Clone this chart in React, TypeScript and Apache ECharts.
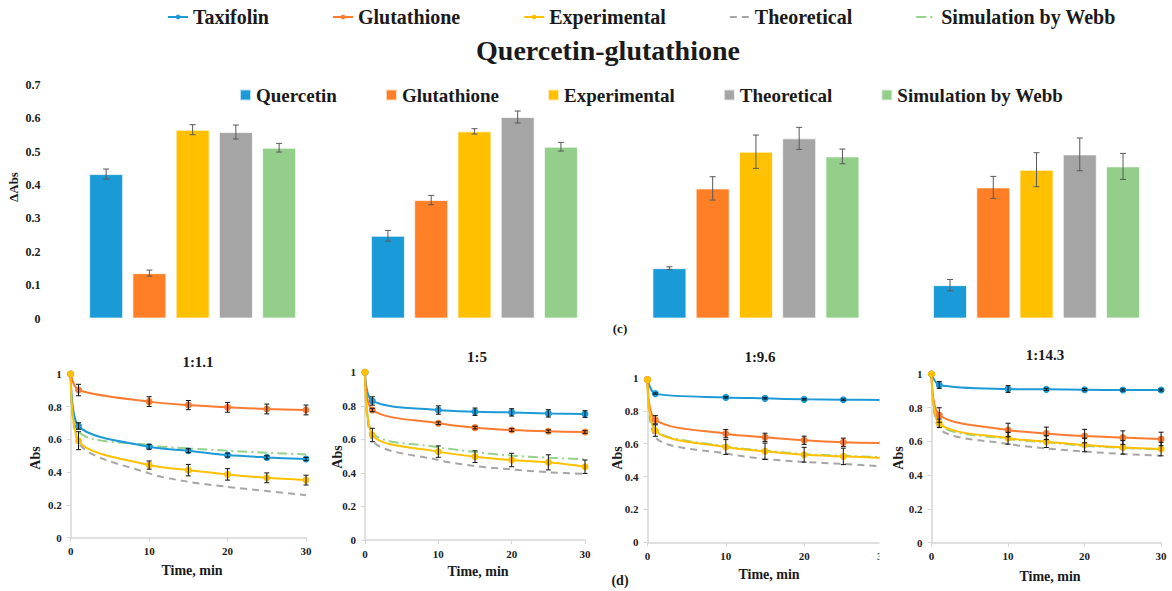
import React, { useEffect, useRef } from 'react';
import * as echarts from 'echarts';

const FONT = 'Liberation Serif, Times New Roman, serif';

// ---------- categories ----------
const ratios = ['1:1.1', '1:5', '1:9.6', '1:14.3'];
const compounds = ['Quercetin', 'Glutathione', 'Experimental', 'Theoretical', 'Simulation by Webb'];
const lineNames = ['Taxifolin', 'Glutathione', 'Experimental', 'Theoretical', 'Simulation by Webb'];
const times = [0, 1, 10, 15, 20, 25, 30];
const timeTicks = [0, 10, 20, 30];

// ---------- bar chart: ΔAbs, compound order ----------
const dAbs_1_1_1 = [0.433, 0.136, 0.566, 0.559, 0.512];
const dAbsErr_1_1_1 = [0.015, 0.009, 0.015, 0.021, 0.013];
const dAbs_1_5 = [0.248, 0.355, 0.561, 0.604, 0.515];
const dAbsErr_1_5 = [0.016, 0.014, 0.008, 0.018, 0.013];
const dAbs_1_9_6 = [0.151, 0.39, 0.5, 0.54, 0.486];
const dAbsErr_1_9_6 = [0.004, 0.035, 0.05, 0.033, 0.022];
const dAbs_1_14_3 = [0.1, 0.393, 0.446, 0.492, 0.456];
const dAbsErr_1_14_3 = [0.017, 0.033, 0.051, 0.049, 0.039];

// ---------- kinetics: Abs vs time ----------
// 1:1.1
const taxifolin_1_1_1 = [1, 0.682, 0.555, 0.531, 0.504, 0.49, 0.48];
const taxifolinErr_1_1_1 = [0, 0.02, 0.015, 0.012, 0.012, 0.01, 0.01];
const glutathione_1_1_1 = [1, 0.902, 0.831, 0.81, 0.796, 0.786, 0.78];
const glutathioneErr_1_1_1 = [0, 0.035, 0.03, 0.028, 0.03, 0.03, 0.03];
const experimental_1_1_1 = [1, 0.592, 0.443, 0.412, 0.386, 0.365, 0.351];
const experimentalErr_1_1_1 = [0, 0.055, 0.025, 0.035, 0.035, 0.03, 0.03];
const theoretical_1_1_1 = [1, 0.58, 0.392, 0.341, 0.31, 0.284, 0.259];
const webb_1_1_1 = [1, 0.647, 0.565, 0.545, 0.531, 0.518, 0.508];
// 1:5
const taxifolin_1_5 = [1, 0.829, 0.775, 0.765, 0.761, 0.755, 0.751];
const taxifolinErr_1_5 = [0, 0.025, 0.025, 0.022, 0.022, 0.022, 0.02];
const glutathione_1_5 = [1, 0.775, 0.696, 0.67, 0.656, 0.648, 0.644];
const glutathioneErr_1_5 = [0, 0.01, 0.008, 0.008, 0.008, 0.008, 0.008];
const experimental_1_5 = [1, 0.626, 0.527, 0.497, 0.477, 0.463, 0.437];
const experimentalErr_1_5 = [0, 0.04, 0.034, 0.035, 0.04, 0.045, 0.04];
const theoretical_1_5 = [1, 0.596, 0.477, 0.441, 0.421, 0.404, 0.394];
const webb_1_5 = [1, 0.64, 0.553, 0.525, 0.503, 0.491, 0.481];
// 1:9.6
const taxifolin_1_9_6 = [0.99, 0.905, 0.882, 0.876, 0.87, 0.868, 0.866];
const taxifolinErr_1_9_6 = [0, 0.004, 0.004, 0.004, 0.004, 0.004, 0.004];
const glutathione_1_9_6 = [0.99, 0.746, 0.661, 0.639, 0.621, 0.609, 0.604];
const glutathioneErr_1_9_6 = [0, 0.025, 0.025, 0.025, 0.025, 0.025, 0.025];
const experimental_1_9_6 = [0.99, 0.68, 0.58, 0.554, 0.533, 0.523, 0.513];
const experimentalErr_1_9_6 = [0, 0.035, 0.045, 0.05, 0.045, 0.05, 0.045];
const theoretical_1_9_6 = [0.99, 0.64, 0.54, 0.507, 0.489, 0.477, 0.462];
const webb_1_9_6 = [0.99, 0.685, 0.584, 0.558, 0.537, 0.527, 0.517];
// 1:14.3
const taxifolin_1_14_3 = [1, 0.935, 0.911, 0.909, 0.907, 0.905, 0.905];
const taxifolinErr_1_14_3 = [0, 0.02, 0.02, 0.006, 0.006, 0.006, 0.006];
const glutathione_1_14_3 = [1, 0.757, 0.668, 0.648, 0.632, 0.623, 0.615];
const glutathioneErr_1_14_3 = [0, 0.043, 0.04, 0.037, 0.04, 0.04, 0.04];
const experimental_1_14_3 = [1, 0.708, 0.619, 0.599, 0.579, 0.565, 0.555];
const experimentalErr_1_14_3 = [0, 0.025, 0.035, 0.035, 0.04, 0.04, 0.04];
const theoretical_1_14_3 = [1, 0.678, 0.585, 0.559, 0.54, 0.526, 0.516];
const webb_1_14_3 = [1, 0.7, 0.615, 0.595, 0.575, 0.562, 0.553];

// ---------- styles ----------
const barColors = ['#1A9AD6', '#FF7F27', '#FFC000', '#A5A5A5', '#93CF8A'];
const lineColors = ['#1C9AD8', '#FB7B30', '#FFC000', '#A6A6A6', '#95D28B'];
const axisGray = '#D6D6D6';
const textColor = '#1a1a1a';

const barGroups = [
  { vals: dAbs_1_1_1, err: dAbsErr_1_1_1, left: 84.5 },
  { vals: dAbs_1_5, err: dAbsErr_1_5, left: 366.3 },
  { vals: dAbs_1_9_6, err: dAbsErr_1_9_6, left: 647.8 },
  { vals: dAbs_1_14_3, err: dAbsErr_1_14_3, left: 928.4 },
];
const barGridTop = 85;
const barGridHeight = 233.5;
const barGridWidth = 216.25;

const panels = [
  {
    lines: [taxifolin_1_1_1, glutathione_1_1_1, experimental_1_1_1, theoretical_1_1_1, webb_1_1_1],
    errs: [taxifolinErr_1_1_1, glutathioneErr_1_1_1, experimentalErr_1_1_1],
    box: { left: 70.7, top: 374, width: 235.3, height: 163.5 },
    title: [198, 362], abs: [35, 458], time: [192, 570],
  },
  {
    lines: [taxifolin_1_5, glutathione_1_5, experimental_1_5, theoretical_1_5, webb_1_5],
    errs: [taxifolinErr_1_5, glutathioneErr_1_5, experimentalErr_1_5],
    box: { left: 365, top: 372.3, width: 220, height: 167.7 },
    title: [477, 357], abs: [337, 457], time: [478, 571],
  },
  {
    lines: [taxifolin_1_9_6, glutathione_1_9_6, experimental_1_9_6, theoretical_1_9_6, webb_1_9_6],
    errs: [taxifolinErr_1_9_6, glutathioneErr_1_9_6, experimentalErr_1_9_6],
    box: { left: 647.5, top: 378, width: 235, height: 164.3 },
    title: [760, 357], abs: [617, 458], time: [769, 574],
  },
  {
    lines: [taxifolin_1_14_3, glutathione_1_14_3, experimental_1_14_3, theoretical_1_14_3, webb_1_14_3],
    errs: [taxifolinErr_1_14_3, glutathioneErr_1_14_3, experimentalErr_1_14_3],
    box: { left: 931.6, top: 374, width: 229.5, height: 168.7 },
    title: [1045, 355], abs: [898, 458], time: [1050, 576],
  },
];

function errorBarRender(color: string, capHalf: number) {
  return (_params: any, api: any) => {
    const x = api.value(0);
    const y = api.value(1);
    const e = api.value(2);
    const top = api.coord([x, y + e]);
    const bot = api.coord([x, y - e]);
    const style = { stroke: color, lineWidth: 1 };
    return {
      type: 'group',
      children: [
        { type: 'line', shape: { x1: top[0], y1: top[1], x2: bot[0], y2: bot[1] }, style },
        { type: 'line', shape: { x1: top[0] - capHalf, y1: top[1], x2: top[0] + capHalf, y2: top[1] }, style },
        { type: 'line', shape: { x1: bot[0] - capHalf, y1: bot[1], x2: bot[0] + capHalf, y2: bot[1] }, style },
      ],
    };
  };
}

function txt(text: string, x: number, y: number, size: number, rotate = 0) {
  return {
    type: 'text',
    x,
    y,
    rotation: rotate,
    z: 100,
    style: {
      text,
      fontFamily: FONT,
      fontSize: size,
      fontWeight: 'bold',
      fill: textColor,
      align: 'center',
      verticalAlign: 'middle',
    },
  };
}

function buildOption() {
  const grid: any[] = [];
  const xAxis: any[] = [];
  const yAxis: any[] = [];
  const series: any[] = [];

  // ---- bar grids ----
  barGroups.forEach((g, gi) => {
    grid.push({ left: g.left, top: barGridTop, width: barGridWidth, height: barGridHeight });
    xAxis.push({
      type: 'category',
      gridIndex: gi,
      data: compounds,
      axisLine: { show: false },
      axisTick: { show: false },
      axisLabel: { show: false },
    });
    yAxis.push({
      type: 'value',
      gridIndex: gi,
      min: 0,
      max: 0.7,
      interval: 0.1,
      splitLine: { show: false },
      axisLine: { show: false },
      axisTick: { show: false },
      axisLabel: {
        show: gi === 0,
        margin: 44,
        fontFamily: FONT,
        fontSize: 12,
        fontWeight: 'bold',
        color: textColor,
      },
    });
    compounds.forEach((c, k) => {
      series.push({
        type: 'bar',
        name: c,
        xAxisIndex: gi,
        yAxisIndex: gi,
        barWidth: 34,
        barGap: '-100%',
        data: compounds.map((_, j) => (j === k ? g.vals[k] : '-')),
        itemStyle: { color: barColors[k], borderColor: 'rgba(255,255,255,0.7)', borderWidth: 1 },
        z: 2,
      });
    });
    series.push({
      type: 'custom',
      xAxisIndex: gi,
      yAxisIndex: gi,
      silent: true,
      z: 4,
      renderItem: errorBarRender('#595959', 3),
      encode: { x: 0, y: 1 },
      data: compounds.map((_, k) => [k, g.vals[k], g.err[k]]),
    });
  });

  // ---- line panels ----
  panels.forEach((p, pi) => {
    const gi = barGroups.length + pi;
    grid.push({ ...p.box });
    xAxis.push({
      type: 'value',
      gridIndex: gi,
      min: 0,
      max: 30,
      interval: 10,
      splitLine: { show: false },
      axisLine: { show: true, lineStyle: { color: axisGray, width: 1.5 } },
      axisTick: { show: true, length: 4, lineStyle: { color: axisGray } },
      axisLabel: {
        margin: 8,
        fontFamily: FONT,
        fontSize: 11,
        fontWeight: 'bold',
        color: textColor,
        customValues: timeTicks,
      },
    });
    yAxis.push({
      type: 'value',
      gridIndex: gi,
      min: 0,
      max: 1,
      interval: 0.2,
      splitLine: { show: false },
      axisLine: { show: true, lineStyle: { color: axisGray, width: 1.5 } },
      axisTick: { show: true, length: 4, lineStyle: { color: axisGray } },
      axisLabel: {
        margin: 9,
        fontFamily: FONT,
        fontSize: 11,
        fontWeight: 'bold',
        color: textColor,
      },
    });
    // order: theoretical, webb, taxifolin, glutathione, experimental
    const order = [3, 4, 0, 1, 2];
    order.forEach((k) => {
      const vals = p.lines[k];
      const base: any = {
        type: 'line',
        name: 'L:' + lineNames[k],
        xAxisIndex: gi,
        yAxisIndex: gi,
        smooth: 0.3,
        data: times.map((t, i) => [t, vals[i]]),
        z: 3,
      };
      if (k < 3) {
        base.symbol = 'circle';
        base.symbolSize = 7;
        base.lineStyle = { color: lineColors[k], width: 2 };
        base.itemStyle = { color: lineColors[k] };
      } else {
        base.symbol = 'none';
        base.showSymbol = false;
        base.lineStyle = {
          color: lineColors[k],
          width: 2,
          type: k === 3 ? [7, 5] : [10, 4, 2, 4],
        };
        base.itemStyle = { color: lineColors[k] };
      }
      series.push(base);
    });
    [0, 1, 2].forEach((k) => {
      series.push({
        type: 'custom',
        xAxisIndex: gi,
        yAxisIndex: gi,
        silent: true,
        z: 5,
        renderItem: errorBarRender('#111', 2.5),
        encode: { x: 0, y: 1 },
        data: times
          .map((t, i) => [t, p.lines[k][i], p.errs[k][i]])
          .filter((d) => d[2] > 0),
      });
    });
  });

  const graphic: any[] = [
    txt('Quercetin-glutathione', 608, 50, 28),
    txt('ΔAbs', 13, 187, 13, Math.PI / 2),
    txt('(c)', 620, 328, 13),
    txt('(d)', 620, 580, 14),
    {
      type: 'rect',
      z: 99,
      shape: { x: 879.5, y: 362, width: 10.5, height: 224 },
      style: { fill: '#ffffff' },
    },
  ];
  panels.forEach((p, pi) => {
    graphic.push(txt(ratios[pi], p.title[0], p.title[1], 15));
    graphic.push(txt('Abs', p.abs[0], p.abs[1], 14, Math.PI / 2));
    graphic.push(txt('Time, min', p.time[0], p.time[1], 14));
  });

  return {
    animation: false,
    backgroundColor: '#ffffff',
    textStyle: { fontFamily: FONT },
    legend: [
      {
        left: 167,
        top: 7,
        padding: 0,
        itemWidth: 20,
        itemHeight: 6,
        itemGap: 63,
        data: lineNames.map((n, k) =>
          k < 3 ? { name: 'L:' + n } : { name: 'L:' + n, itemStyle: { opacity: 0 } }
        ),
        formatter: (name: string) => name.replace('L:', ''),
        textStyle: { fontFamily: FONT, fontSize: 20, fontWeight: 'bold', color: textColor },
        selectedMode: false,
      },
      {
        left: 239,
        top: 85.5,
        padding: 0,
        icon: 'rect',
        itemWidth: 11,
        itemHeight: 11,
        itemGap: 48,
        data: compounds,
        textStyle: { fontFamily: FONT, fontSize: 19, fontWeight: 'bold', color: textColor },
        selectedMode: false,
      },
    ],
    grid,
    xAxis,
    yAxis,
    series,
    graphic,
  };
}

export default function App() {
  const ref = useRef<HTMLDivElement>(null);
  useEffect(() => {
    if (!ref.current) return;
    const chart = echarts.init(ref.current, undefined, { renderer: 'svg' });
    chart.setOption(buildOption() as any);
    return () => chart.dispose();
  }, []);
  return (
    <div
      ref={ref}
      style={{ position: 'absolute', left: 0, top: 0, width: 1172, height: 591, background: '#fff' }}
    />
  );
}
